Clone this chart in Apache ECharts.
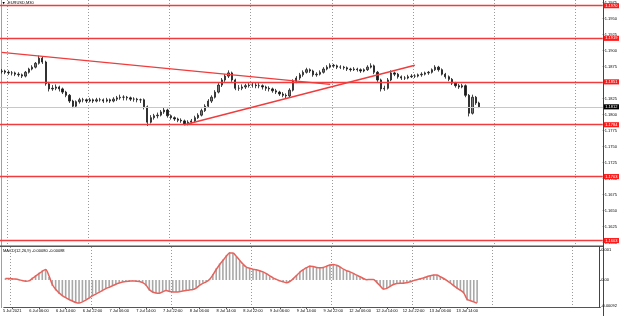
<!DOCTYPE html>
<html><head><meta charset="utf-8">
<script src="https://cdn.jsdelivr.net/npm/echarts@6/dist/echarts.min.js"></script>
<style>html,body{margin:0;padding:0;background:#fff}#c{width:620px;height:316px}</style>
</head><body><div id="c"></div>
<script>
// ---- DATA (EURUSD H1 approximation of the M30 picture) ----
const dayList = [[5,20],[6,0],[7,0],[8,0],[9,0],[12,0],[13,0],[14,0],[15,0]];
const categories = [];
dayList.forEach(([d,h0]) => { for (let h = h0; h < 24; h++) categories.push(d + ' Jul ' + String(h).padStart(2,'0') + ':00'); });
categories.length = 178;

const timeTickCats = ['5 Jul 22:00','6 Jul 06:00','6 Jul 14:00','6 Jul 22:00','7 Jul 06:00','7 Jul 14:00','7 Jul 22:00','8 Jul 06:00','8 Jul 14:00','8 Jul 22:00','9 Jul 06:00','9 Jul 14:00','9 Jul 22:00','12 Jul 06:00','12 Jul 14:00','12 Jul 22:00','13 Jul 06:00','13 Jul 14:00'];
const timeTickLabels = ['5 Jul 2021','6 Jul 06:00','6 Jul 14:00','6 Jul 22:00','7 Jul 06:00','7 Jul 14:00','7 Jul 22:00','8 Jul 06:00','8 Jul 14:00','8 Jul 22:00','9 Jul 06:00','9 Jul 14:00','9 Jul 22:00','12 Jul 06:00','12 Jul 14:00','12 Jul 22:00','13 Jul 06:00','13 Jul 14:00'];

const opens = [1.1867,1.1868,1.1866,1.1865,1.1865,1.1863,1.1862,1.1860,1.1866,1.1871,
1.1874,1.1880,1.1888,1.1882,1.1848,1.1840,1.1841,1.1843,1.1840,1.1835,
1.1830,1.1821,1.1813,1.1820,1.1823,1.1823,1.1821,1.1823,1.1821,1.1823,
1.1823,1.1821,1.1823,1.1821,1.1824,1.1826,1.1827,1.1827,1.1826,1.1824,
1.1824,1.1823,1.1823,1.1812,1.1788,1.1795,1.1798,1.1799,1.1804,1.1807,
1.1798,1.1795,1.1793,1.1791,1.1790,1.1785,1.1788,1.1790,1.1795,1.1799,
1.1806,1.1813,1.1821,1.1827,1.1835,1.1846,1.1854,1.1860,1.1865,1.1854,
1.1841,1.1841,1.1843,1.1845,1.1846,1.1846,1.1845,1.1845,1.1843,1.1841,
1.1840,1.1837,1.1835,1.1832,1.1830,1.1829,1.1838,1.1852,1.1857,1.1862,
1.1866,1.1870,1.1868,1.1862,1.1863,1.1866,1.1871,1.1874,1.1877,1.1876,
1.1874,1.1874,1.1873,1.1871,1.1870,1.1871,1.1870,1.1868,1.1870,1.1874,
1.1876,1.1866,1.1854,1.1840,1.1841,1.1854,1.1865,1.1863,1.1859,1.1857,
1.1857,1.1859,1.1860,1.1860,1.1862,1.1863,1.1865,1.1866,1.1870,1.1874,
1.1870,1.1863,1.1859,1.1855,1.1849,1.1845,1.1843,1.1845,1.1830,1.1802,
1.1827,1.1818];
const highs = [1.1871,1.1870,1.1869,1.1868,1.1867,1.1866,1.1864,1.1868,1.1873,1.1877,
1.1882,1.1892,1.1890,1.1884,1.1851,1.1846,1.1847,1.1845,1.1842,1.1837,
1.1832,1.1823,1.1822,1.1826,1.1826,1.1825,1.1826,1.1825,1.1826,1.1826,
1.1825,1.1826,1.1825,1.1827,1.1829,1.1831,1.1830,1.1829,1.1828,1.1827,
1.1826,1.1825,1.1825,1.1814,1.1799,1.1801,1.1803,1.1807,1.1811,1.1809,
1.1800,1.1797,1.1795,1.1794,1.1792,1.1791,1.1793,1.1798,1.1802,1.1809,
1.1816,1.1824,1.1830,1.1838,1.1849,1.1857,1.1863,1.1869,1.1867,1.1856,
1.1846,1.1847,1.1848,1.1849,1.1850,1.1849,1.1849,1.1847,1.1845,1.1844,
1.1842,1.1840,1.1837,1.1835,1.1833,1.1841,1.1855,1.1860,1.1865,1.1869,
1.1873,1.1872,1.1870,1.1866,1.1869,1.1874,1.1877,1.1880,1.1879,1.1878,
1.1877,1.1876,1.1875,1.1873,1.1874,1.1873,1.1872,1.1872,1.1877,1.1880,
1.1878,1.1868,1.1856,1.1845,1.1857,1.1869,1.1867,1.1865,1.1861,1.1860,
1.1862,1.1863,1.1863,1.1864,1.1866,1.1867,1.1868,1.1872,1.1877,1.1876,
1.1872,1.1865,1.1861,1.1857,1.1851,1.1848,1.1848,1.1847,1.1832,1.1831,
1.1829,1.1820];
const lows = [1.1864,1.1863,1.1862,1.1861,1.1860,1.1859,1.1857,1.1858,1.1864,1.1869,
1.1872,1.1878,1.1879,1.1845,1.1836,1.1837,1.1838,1.1836,1.1832,1.1827,
1.1818,1.1810,1.1811,1.1817,1.1819,1.1818,1.1819,1.1818,1.1819,1.1820,
1.1818,1.1819,1.1818,1.1819,1.1821,1.1823,1.1822,1.1822,1.1821,1.1820,
1.1819,1.1818,1.1808,1.1782,1.1786,1.1792,1.1794,1.1797,1.1801,1.1795,
1.1792,1.1790,1.1788,1.1787,1.1783,1.1783,1.1786,1.1788,1.1793,1.1797,
1.1804,1.1811,1.1818,1.1825,1.1833,1.1843,1.1851,1.1857,1.1851,1.1838,
1.1837,1.1838,1.1840,1.1842,1.1842,1.1841,1.1841,1.1839,1.1837,1.1836,
1.1834,1.1832,1.1829,1.1827,1.1825,1.1827,1.1836,1.1849,1.1854,1.1859,
1.1864,1.1865,1.1859,1.1859,1.1861,1.1864,1.1869,1.1872,1.1873,1.1871,
1.1871,1.1870,1.1868,1.1867,1.1868,1.1867,1.1865,1.1866,1.1868,1.1872,
1.1863,1.1851,1.1836,1.1837,1.1839,1.1852,1.1860,1.1856,1.1854,1.1854,
1.1855,1.1857,1.1857,1.1858,1.1859,1.1861,1.1862,1.1864,1.1868,1.1867,
1.1861,1.1856,1.1852,1.1846,1.1842,1.1840,1.1841,1.1827,1.1797,1.1800,
1.1815,1.1810];
const closes = [1.1868,1.1866,1.1865,1.1865,1.1863,1.1862,1.1860,1.1866,1.1871,1.1874,
1.1880,1.1888,1.1882,1.1848,1.1840,1.1841,1.1843,1.1840,1.1835,1.1830,
1.1821,1.1813,1.1820,1.1823,1.1823,1.1821,1.1823,1.1821,1.1823,1.1823,
1.1821,1.1823,1.1821,1.1824,1.1826,1.1827,1.1827,1.1826,1.1824,1.1824,
1.1823,1.1823,1.1812,1.1788,1.1795,1.1798,1.1799,1.1804,1.1807,1.1798,
1.1795,1.1793,1.1791,1.1790,1.1785,1.1788,1.1790,1.1795,1.1799,1.1806,
1.1813,1.1821,1.1827,1.1835,1.1846,1.1854,1.1860,1.1865,1.1854,1.1841,
1.1841,1.1843,1.1845,1.1846,1.1846,1.1845,1.1845,1.1843,1.1841,1.1840,
1.1837,1.1835,1.1832,1.1830,1.1829,1.1838,1.1852,1.1857,1.1862,1.1866,
1.1870,1.1868,1.1862,1.1863,1.1866,1.1871,1.1874,1.1877,1.1876,1.1874,
1.1874,1.1873,1.1871,1.1870,1.1871,1.1870,1.1868,1.1870,1.1874,1.1876,
1.1866,1.1854,1.1840,1.1841,1.1854,1.1865,1.1863,1.1859,1.1857,1.1857,
1.1859,1.1860,1.1860,1.1862,1.1863,1.1865,1.1866,1.1870,1.1874,1.1870,
1.1863,1.1859,1.1855,1.1849,1.1845,1.1843,1.1845,1.1830,1.1802,1.1827,
1.1818,1.1812];

const macdHist = [0.00006,0.00005,0.00004,0.00002,0.00000,-0.00003,-0.00005,-0.00002,0.00008,0.00016,
0.00024,0.00032,0.00036,0.00010,-0.00020,-0.00035,-0.00046,-0.00054,-0.00060,-0.00066,
-0.00071,-0.00076,-0.00077,-0.00071,-0.00065,-0.00058,-0.00051,-0.00045,-0.00039,-0.00033,
-0.00028,-0.00022,-0.00017,-0.00013,-0.00009,-0.00006,-0.00005,-0.00004,-0.00003,-0.00004,
-0.00005,-0.00010,-0.00019,-0.00036,-0.00042,-0.00044,-0.00044,-0.00038,-0.00034,-0.00039,
-0.00040,-0.00040,-0.00038,-0.00036,-0.00034,-0.00033,-0.00031,-0.00026,-0.00016,-0.00009,
-0.00005,0.00004,0.00020,0.00039,0.00055,0.00068,0.00082,0.00093,0.00090,0.00077,
0.00063,0.00050,0.00041,0.00038,0.00035,0.00033,0.00031,0.00026,0.00020,0.00012,
0.00006,0.00001,-0.00004,-0.00007,-0.00010,-0.00004,0.00006,0.00017,0.00028,0.00036,
0.00043,0.00048,0.00044,0.00041,0.00041,0.00042,0.00047,0.00052,0.00053,0.00048,
0.00043,0.00034,0.00030,0.00026,0.00021,0.00015,0.00010,0.00004,0.00000,0.00002,
0.00002,-0.00010,-0.00021,-0.00032,-0.00027,-0.00020,-0.00014,-0.00011,-0.00011,-0.00011,
-0.00009,-0.00005,-0.00001,0.00002,0.00005,0.00008,0.00012,0.00015,0.00018,0.00017,
0.00010,0.00004,-0.00003,-0.00011,-0.00021,-0.00029,-0.00035,-0.00045,-0.00068,-0.00070,
-0.00073,-0.00076];
const macdSignal = [0.00005,0.00005,0.00004,0.00003,0.00001,-0.00002,-0.00004,-0.00003,0.00005,0.00013,
0.00021,0.00029,0.00035,0.00014,-0.00015,-0.00031,-0.00043,-0.00052,-0.00059,-0.00065,
-0.00070,-0.00075,-0.00077,-0.00073,-0.00067,-0.00060,-0.00053,-0.00047,-0.00041,-0.00035,
-0.00029,-0.00024,-0.00019,-0.00014,-0.00010,-0.00007,-0.00005,-0.00004,-0.00003,-0.00004,
-0.00005,-0.00009,-0.00017,-0.00032,-0.00040,-0.00043,-0.00044,-0.00039,-0.00035,-0.00038,
-0.00040,-0.00040,-0.00039,-0.00037,-0.00035,-0.00033,-0.00032,-0.00027,-0.00018,-0.00011,
-0.00006,0.00002,0.00017,0.00035,0.00051,0.00065,0.00079,0.00090,0.00090,0.00079,
0.00066,0.00053,0.00043,0.00039,0.00036,0.00034,0.00031,0.00027,0.00021,0.00014,
0.00007,0.00002,-0.00003,-0.00006,-0.00009,-0.00005,0.00004,0.00015,0.00026,0.00034,
0.00041,0.00046,0.00045,0.00042,0.00041,0.00042,0.00046,0.00050,0.00052,0.00049,
0.00044,0.00036,0.00031,0.00027,0.00022,0.00016,0.00011,0.00005,0.00001,0.00002,
0.00002,-0.00008,-0.00019,-0.00030,-0.00028,-0.00021,-0.00015,-0.00012,-0.00011,-0.00011,
-0.00009,-0.00006,-0.00002,0.00001,0.00004,0.00007,0.00011,0.00014,0.00017,0.00017,
0.00011,0.00005,-0.00002,-0.00010,-0.00019,-0.00027,-0.00034,-0.00043,-0.00064,-0.00069,
-0.00073,-0.00077];

const levels = [1.1970, 1.1919, 1.1851, 1.1784, 1.1703, 1.1603];
const currentPrice = 1.1812;
const trendDown = [[0, 1.1897], [97, 1.1847]];
const trendUp = [[54, 1.1784], [122, 1.1877]];
const yTicks = [1.1600,1.1625,1.1650,1.1675,1.1700,1.1725,1.1750,1.1775,1.1800,1.1825,1.1850,1.1875,1.1900,1.1925,1.1950,1.1975];
const macdTicks = [-0.00092, 0, 0.001];
const macdTickLabels = ['-0.00092', '0.00', '0.001'];

// ---- CHART ----
const FONT = 'Liberation Sans';
const FS = 4;
const RED = '#f03c3c';
const candleData = opens.map((o, i) => [o, closes[i], lows[i], highs[i]]);
const isTick = (idx, val) => timeTickCats.indexOf(val) >= 0;
const isGrid = (idx, val) => /22:00$/.test(val);

const chart = echarts.init(document.getElementById('c'), null, {renderer: 'canvas', width: 620, height: 316});
const priceMax = 1.1975 + 2.5 / 6400;
const priceMin = priceMax - 245.5 / 6400;

chart.setOption({
  animation: false,
  backgroundColor: '#ffffff',
  textStyle: {fontFamily: FONT},
  grid: [
    {left: 0, right: 17, top: 0, height: 245.5},
    {left: 0, right: 17, top: 247, height: 60.6}
  ],
  xAxis: [
    {type: 'category', gridIndex: 0, data: categories, boundaryGap: true,
     axisLine: {show: false}, axisTick: {show: false}, axisLabel: {show: false},
     splitLine: {show: true, interval: isGrid, lineStyle: {color: '#9a9a9a', width: 1, type: [1, 2]}}},
    {type: 'category', gridIndex: 1, data: categories, boundaryGap: true,
     axisLine: {show: true, onZero: false, lineStyle: {color: '#555', width: 1}},
     axisTick: {show: true, interval: isTick, alignWithLabel: true, length: 1.5, lineStyle: {color: '#555'}},
     axisLabel: {show: true, interval: isTick, formatter: v => timeTickLabels[timeTickCats.indexOf(v)],
                 fontSize: FS, color: '#000', margin: 1.5, fontFamily: FONT},
     splitLine: {show: true, interval: isGrid, lineStyle: {color: '#9a9a9a', width: 1, type: [1, 2]}}}
  ],
  yAxis: [
    {type: 'value', gridIndex: 0, position: 'right', min: priceMin, max: priceMax, scale: true,
     axisLine: {show: true, lineStyle: {color: '#444', width: 1}},
     axisTick: {show: true, customValues: yTicks, length: 1.5, lineStyle: {color: '#444'}},
     axisLabel: {show: true, customValues: yTicks, formatter: v => v.toFixed(4), fontSize: FS, color: '#000', margin: 2, fontFamily: FONT},
     splitLine: {show: false}},
    {type: 'value', gridIndex: 1, position: 'right', min: -0.00092, max: 0.0011,
     axisLine: {show: true, lineStyle: {color: '#444', width: 1}},
     axisTick: {show: true, customValues: macdTicks, length: 1.5, lineStyle: {color: '#444'}},
     axisLabel: {show: true, customValues: macdTicks, verticalAlignMinLabel: 'bottom',
                 formatter: v => macdTickLabels[macdTicks.indexOf(v)] || '', fontSize: FS, color: '#000', margin: 2, fontFamily: FONT},
     splitLine: {show: false}}
  ],
  series: [
    {type: 'candlestick', xAxisIndex: 0, yAxisIndex: 0, data: candleData, barWidth: 1.8, clip: false,
     itemStyle: {color: '#7a7a7a', color0: '#1a1a1a', borderColor: '#1a1a1a', borderColor0: '#1a1a1a', borderWidth: 0.8},
     markLine: {
       silent: true, symbol: 'none', animation: false, precision: 4,
       data: [
         ...levels.map(v => ({yAxis: v, lineStyle: {color: RED, width: 1.4, type: 'solid'},
            label: {show: true, position: 'end', distance: 1, formatter: v.toFixed(4), color: '#fff', backgroundColor: '#ff1a1a',
                    fontSize: FS, fontFamily: FONT, padding: [0.8, 1.5, 0.3, 1.5]}})),
         {yAxis: currentPrice, lineStyle: {color: '#c8c8c8', width: 1, type: 'solid'},
          label: {show: true, position: 'end', distance: 1, formatter: currentPrice.toFixed(4), color: '#fff', backgroundColor: '#000',
                  fontSize: FS, fontFamily: FONT, padding: [0.8, 1.5, 0.3, 1.5]}},
         [{coord: trendDown[0], lineStyle: {color: RED, width: 1.4, type: 'solid'}, label: {show: false}}, {coord: trendDown[1]}],
         [{coord: trendUp[0], lineStyle: {color: RED, width: 1.4, type: 'solid'}, label: {show: false}}, {coord: trendUp[1]}]
       ]
     }},
    {type: 'bar', xAxisIndex: 1, yAxisIndex: 1, data: macdHist, barWidth: 1.6,
     itemStyle: {color: '#a8a8a8'}},
    {type: 'line', xAxisIndex: 1, yAxisIndex: 1, data: macdSignal, symbol: 'none', smooth: 0.3,
     lineStyle: {color: '#e8625c', width: 1.5}}
  ],
  graphic: [
    {type: 'line', shape: {x1: 1.5, y1: 0, x2: 1.5, y2: 308}, style: {stroke: '#a0a0a0', lineWidth: 1}},
    {type: 'rect', shape: {x: 0, y: 245.5, width: 603, height: 1.5}, style: {fill: '#555'}},
    {type: 'line', shape: {x1: 603.5, y1: 0, x2: 603.5, y2: 316}, style: {stroke: '#444', lineWidth: 1}},
    {type: 'text', left: 2.5, top: 1.5, style: {text: '\u25BC', font: '3px "DejaVu Sans"', fill: '#000'}},
    {type: 'text', left: 8, top: 1, style: {text: 'EURUSD,M30', font: FS + 'px "' + FONT + '"', fill: '#000'}},
    {type: 'text', left: 3, top: 249, style: {text: 'MACD(12,26,9) -0.00080 -0.00088', font: FS + 'px "' + FONT + '"', fill: '#000'}}
  ]
});
</script></body></html>
